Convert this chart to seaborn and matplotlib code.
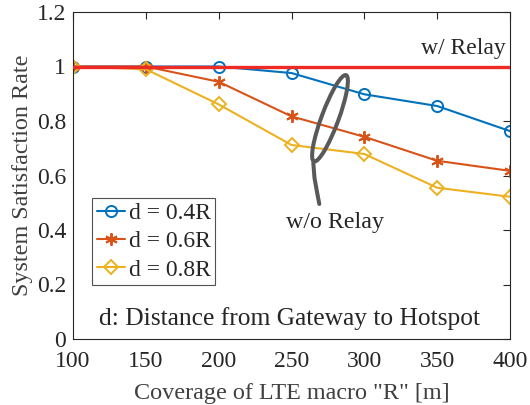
import numpy as np
import pandas as pd
import matplotlib
matplotlib.use("Agg")
import matplotlib.pyplot as plt
import seaborn as sns
from matplotlib.patches import Ellipse
from matplotlib.transforms import IdentityTransform
from matplotlib.lines import Line2D

coverage = [100, 150, 200, 250, 300, 350, 400]
d04 = [1.0, 1.0, 1.0, 0.976, 0.898, 0.855, 0.763]
d06 = [1.0, 1.0, 0.944, 0.817, 0.742, 0.654, 0.617]
d08 = [1.0, 0.99, 0.861, 0.712, 0.679, 0.555, 0.522]
relay = [1.0] * len(coverage)
labels = ["d = 0.4R", "d = 0.6R", "d = 0.8R"]
colors = ["#0072BD", "#D95319", "#EDB120"]
markers = ["o", (6, 2, 0), "D"]

sns.set_theme(style="white")
plt.rcParams["font.family"] = ["Liberation Serif", "DejaVu Serif"]

fig = plt.figure(figsize=(5.3, 4.05), dpi=100)
ax = fig.add_axes([73 / 530, 66 / 405, 437 / 530, 327 / 405])

df = pd.DataFrame({"R": coverage * 3,
                   "rate": d04 + d06 + d08,
                   "d": sum([[l] * len(coverage) for l in labels], [])})

handles = []
for lab, col, mk in zip(labels, colors, markers):
    sub = df[df["d"] == lab]
    ms = {"o": 8, "D": 7}.get(mk, 9) if isinstance(mk, str) else 9
    mkw = dict(marker=mk, markersize=ms, markeredgewidth=1.4,
               markerfacecolor="none", markeredgecolor=col)
    sns.lineplot(data=sub, x="R", y="rate", ax=ax, color=col, linewidth=1.5,
                 legend=False, **mkw)
    handles.append(Line2D([], [], color=col, linewidth=1.5, **mkw))

sns.lineplot(x=coverage, y=relay, ax=ax, color="#EE2A24", linewidth=2.4,
             legend=False, zorder=5)

ax.set_xlim(100, 400)
ax.set_ylim(0, 1.2)
ax.set_xticks([100, 150, 200, 250, 300, 350, 400])
ax.set_yticks([0, 0.2, 0.4, 0.6, 0.8, 1.0, 1.2])
ax.set_yticklabels(["0", "0.2", "0.4", "0.6", "0.8", "1", "1.2"])
txtc = "#262626"
ax.tick_params(direction="in", length=5, width=0.8, colors="#262626", labelsize=17,
               top=True, right=True, labelcolor=txtc)
ax.tick_params(axis="x", pad=8.5)
ax.tick_params(axis="y", pad=5)
for s in ax.spines.values():
    s.set_color("#262626")
    s.set_linewidth(0.8)
ax.set_xlabel('Coverage of LTE macro "R" [m]', fontsize=17.4, color="#404040", labelpad=8)
ax.set_ylabel("System Satisfaction Rate", fontsize=17.4, color="#404040", labelpad=3)

ax.text(397, 1.067, "w/ Relay", ha="right", va="center", fontsize=17, color=txtc)
ax.text(280, 0.428, "w/o Relay", ha="center", va="center", fontsize=17.3, color=txtc)
ax.text(248.3, 0.075, "d: Distance from Gateway to Hotspot", ha="center", va="center",
        fontsize=18.4, color=txtc)

# ellipse annotation (display pixels)
H = 405
ell = Ellipse((330, H - 118.3), width=92, height=17, angle=69.6, fill=False,
              edgecolor="#595959", linewidth=2.9, transform=IdentityTransform(), zorder=6)
ax.add_patch(ell)
tail = Line2D([313.3, 314.5, 317, 319.3], [H - 163, H - 178, H - 192, H - 204],
              color="#595959", linewidth=2.9, transform=IdentityTransform(), zorder=6)
ax.add_line(tail)

leg = ax.legend(handles, labels, loc="upper left",
                bbox_to_anchor=(19 / 437, (339 - 198) / 327),
                fontsize=17, frameon=True, fancybox=False, borderpad=0.2,
                handlelength=1.2, handletextpad=0.15, labelspacing=0.28,
                borderaxespad=0, edgecolor="#262626")
leg.get_frame().set_linewidth(0.8)
for t in leg.get_texts():
    t.set_color(txtc)

fig.savefig("out.png", dpi=100)
